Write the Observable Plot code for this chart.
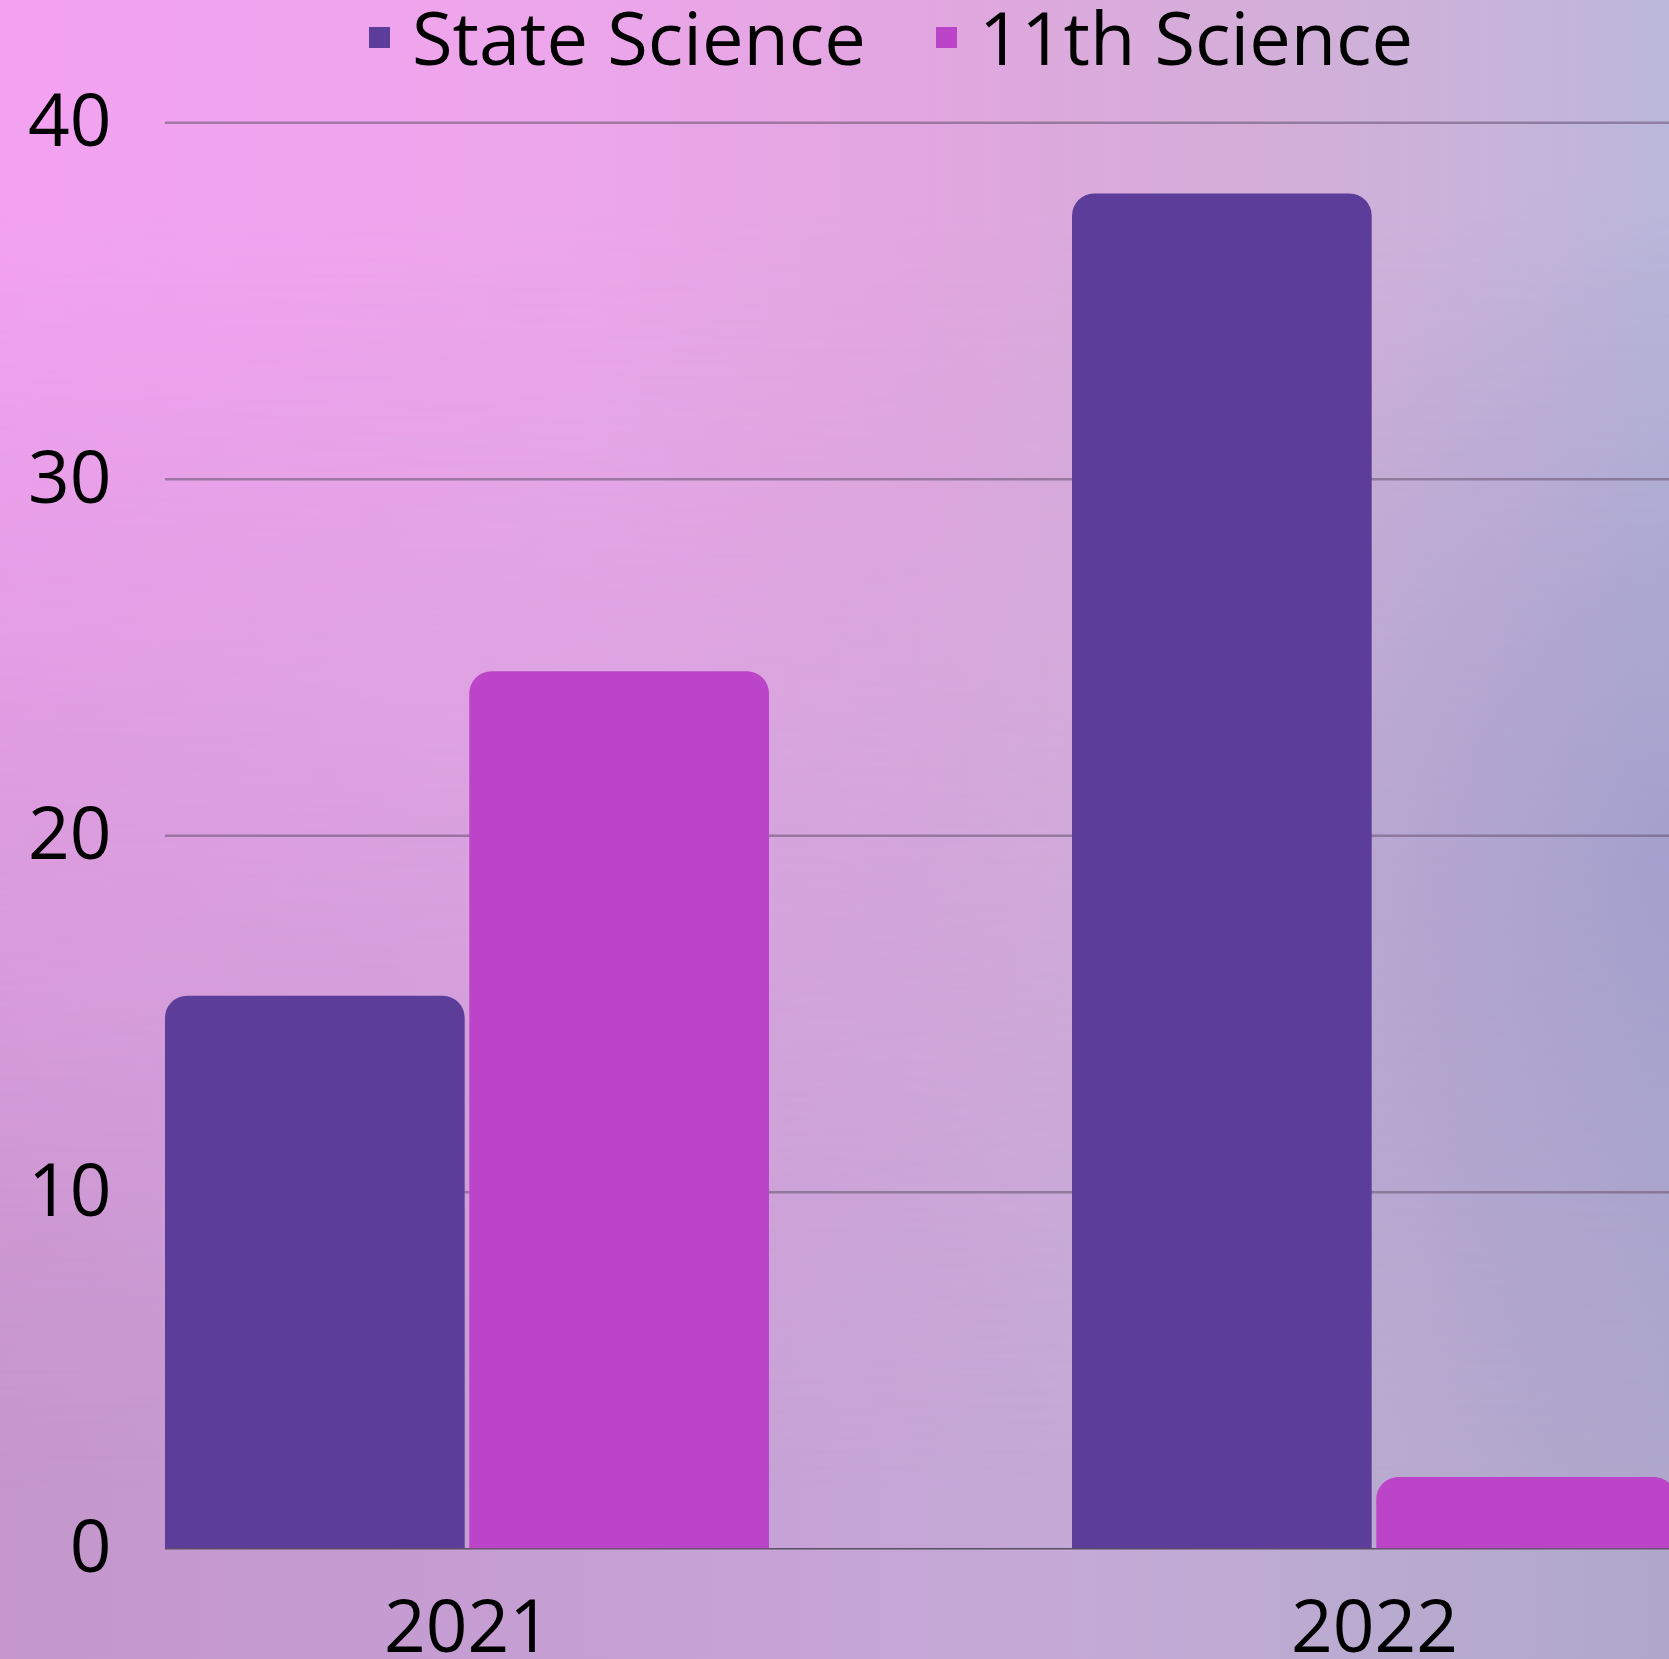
<!DOCTYPE html>
<html>
<head>
<meta charset="utf-8">
<script src="https://cdn.jsdelivr.net/npm/d3@7"></script>
<script src="https://cdn.jsdelivr.net/npm/@observablehq/plot@0.6"></script>
<style>
  html, body { margin: 0; padding: 0; }
  body { width: 1669px; height: 1659px; position: relative; overflow: hidden; font-family: 'Open Sans', sans-serif; }
  #bg { position: absolute; left: 0; top: 0; width: 1669px; height: 1659px;
    background: linear-gradient(to right, #c496cc 0%, #c6a2d6 45%, #c4aad6 65%, #b8aacf 85%, #b0a8cc 100%); }
  #bg::before { content: ""; position: absolute; inset: 0;
    background: linear-gradient(to right, #f3a2f1 0%, #eca6ea 35%, #e2a6e0 55%, #d4aed8 75%, #c8b4da 90%, #bab8da 100%);
    -webkit-mask-image: linear-gradient(to bottom, #000 0%, #000 12%, rgba(0,0,0,0.45) 55%, transparent 90%);
    mask-image: linear-gradient(to bottom, #000 0%, #000 12%, rgba(0,0,0,0.45) 55%, transparent 90%); }
  #bg::after { content: ""; position: absolute; inset: 0;
    background: radial-gradient(ellipse 520px 700px at 100% 52%, rgba(150,148,200,0.55), rgba(150,148,200,0) 100%); }
  #chart { position: absolute; left: 0; top: 0; }
  #legend { position: absolute; left: 369px; top: 1px; }
  #legend div, #legend span { font-family: 'Open Sans', sans-serif !important; font-size: 74px !important; line-height: 72px; color: #000; }
  #legend [class$="-swatches"] { margin: 0 !important; min-height: 0 !important; }
  #legend [class$="-swatch"] { margin-right: 70px !important; }
  #legend [class$="-swatch"] > svg { margin-right: 22px !important; }
</style>
</head>
<body>
<div id="bg"></div>
<div id="chart"></div>
<div id="legend"></div>
<script>
const years = ["2021", "2022"];
const seriesNames = ["State Science", "11th Science"];
const stateScience = [15.5, 38];
const eleventhScience = [24.6, 2];
const yTicks = [0, 10, 20, 30, 40];
const seriesColors = ["#5d3d9a", "#bb44c9"];

const data = [];
years.forEach((y, i) => {
  data.push({year: y, series: seriesNames[0], value: stateScience[i]});
  data.push({year: y, series: seriesNames[1], value: eleventhScience[i]});
});

const chart = Plot.plot({
  width: 1669,
  height: 1659,
  marginLeft: 165,
  marginRight: 0,
  marginTop: 122,
  marginBottom: 111,
  style: {background: "transparent", fontFamily: "'Open Sans', sans-serif", fontSize: "73px", color: "#000", overflow: "hidden"},
  x: {type: "band", domain: years, range: [165, 1678], paddingInner: 0.3337, paddingOuter: 0, align: 0, label: null},
  y: {domain: [0, 40], range: [1548.3, 122.3], label: null},
  color: {domain: seriesNames, range: seriesColors},
  marks: [
    Plot.ruleY(yTicks.filter(d => d > 0), {stroke: "#6e5a7a", strokeOpacity: 0.6, strokeWidth: 2.5}),
    Plot.ruleY([0], {stroke: "#5a5060", strokeWidth: 1.5}),
    Plot.barY(data.filter(d => d.series === seriesNames[0]), {x: "year", y: "value", fill: "series", insetRight: 304.3, ry1: 22}),
    Plot.barY(data.filter(d => d.series === seriesNames[1]), {x: "year", y: "value", fill: "series", insetLeft: 304.3, ry1: 22}),
    Plot.axisY({ticks: yTicks, tickSize: 0, tickPadding: 54, fontSize: 73, label: null}),
    Plot.axisX({tickSize: 0, tickPadding: 52, fontSize: 73, label: null})
  ]
});
document.getElementById("chart").appendChild(chart);

const legend = Plot.legend({
  color: {domain: seriesNames, range: seriesColors},
  legend: "swatches",
  swatchSize: 21
});
document.getElementById("legend").appendChild(legend);
</script>
</body>
</html>
